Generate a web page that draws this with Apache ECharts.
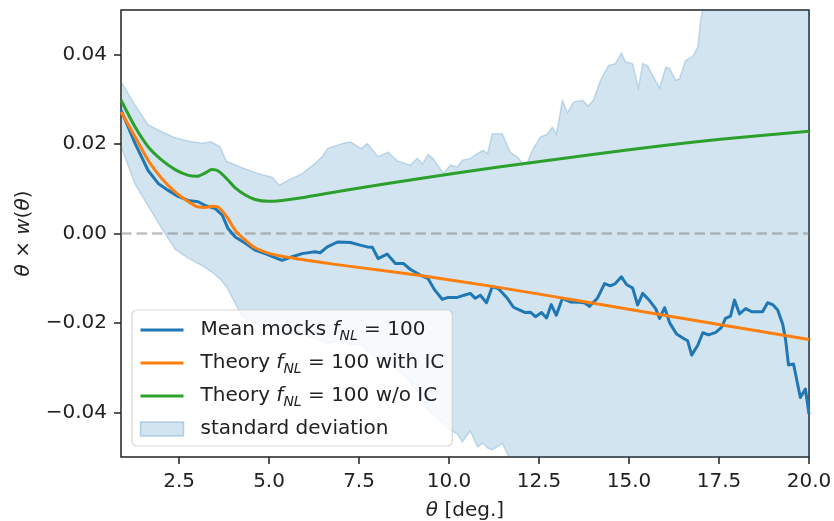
<!DOCTYPE html>
<html>
<head>
<meta charset="utf-8">
<script src="https://cdn.jsdelivr.net/npm/echarts@6/dist/echarts.min.js"></script>
<style>
  html, body { margin: 0; padding: 0; background: #fff; }
  #chart { width: 834px; height: 521px; }
</style>
</head>
<body>
<div id="chart"></div>
<script>
// Mean of the mocks, theta * w(theta)
const thetaMean = [0.89,1.28,1.64,1.92,2.19,2.47,2.75,3.03,3.22,3.50,3.70,3.86,4.06,4.34,4.61,4.89,5.17,5.36,5.64,5.92,6.28,6.42,6.62,6.90,7.26,7.53,7.73,7.87,8.03,8.28,8.51,8.73,8.92,9.20,9.42,9.59,9.81,9.98,10.23,10.42,10.59,10.73,10.87,11.04,11.20,11.37,11.62,11.79,11.98,12.12,12.26,12.40,12.57,12.71,12.84,12.98,13.15,13.37,13.60,13.76,13.90,14.12,14.32,14.48,14.62,14.79,14.93,15.10,15.24,15.38,15.57,15.74,15.85,15.99,16.13,16.32,16.54,16.63,16.74,16.91,17.05,17.21,17.41,17.57,17.68,17.82,17.93,18.07,18.24,18.41,18.71,18.85,18.99,19.13,19.27,19.35,19.43,19.57,19.76,19.90,20.00];
const meanMocks = [0.0276,0.0201,0.0141,0.0112,0.0097,0.0083,0.0074,0.0071,0.0063,0.0056,0.0041,0.0011,-0.0008,-0.0022,-0.0037,-0.0045,-0.0054,-0.0060,-0.0052,-0.0045,-0.0041,-0.0043,-0.0030,-0.0019,-0.0020,-0.0026,-0.0030,-0.0031,-0.0056,-0.0046,-0.0067,-0.0067,-0.0080,-0.0093,-0.0101,-0.0125,-0.0147,-0.0143,-0.0143,-0.0138,-0.0134,-0.0145,-0.0138,-0.0155,-0.0119,-0.0123,-0.0145,-0.0165,-0.0172,-0.0177,-0.0176,-0.0186,-0.0177,-0.0189,-0.0159,-0.0183,-0.0145,-0.0153,-0.0154,-0.0155,-0.0163,-0.0145,-0.0112,-0.0117,-0.0112,-0.0097,-0.0114,-0.0122,-0.0160,-0.0134,-0.0150,-0.0168,-0.0190,-0.0166,-0.0200,-0.0225,-0.0236,-0.0240,-0.0272,-0.0250,-0.0222,-0.0227,-0.0221,-0.0210,-0.0190,-0.0185,-0.0149,-0.0180,-0.0168,-0.0175,-0.0175,-0.0155,-0.0159,-0.0171,-0.0203,-0.0238,-0.0294,-0.0292,-0.0367,-0.0348,-0.0404];

// Theory curves, with and without the integral constraint
const thetaTheory = [0.89,1.28,1.64,2.02,2.39,2.76,3.00,3.22,3.41,3.59,3.83,4.06,4.34,4.61,4.98,5.36,5.91,6.47,7.21,9.20,11.33,13.93,15.97,17.54,20.00];
const theoryWithIC = [0.0272,0.0216,0.0164,0.0123,0.0093,0.0071,0.0060,0.0058,0.0061,0.0059,0.0037,0.0007,-0.0015,-0.0032,-0.0044,-0.0051,-0.0058,-0.0065,-0.0073,-0.0094,-0.0120,-0.0155,-0.0183,-0.0204,-0.0237];
const theoryNoIC = [0.0298,0.0238,0.0194,0.0164,0.0143,0.0130,0.0128,0.0135,0.0143,0.0140,0.0122,0.0102,0.0086,0.0076,0.0072,0.0074,0.0080,0.0088,0.0098,0.0123,0.0148,0.0176,0.0197,0.0211,0.0229];

// Standard deviation envelope of the mocks
const thetaBand = [0.89,1.28,1.64,2.03,2.39,2.75,3.14,3.39,3.64,3.81,4.25,4.70,5.09,5.28,5.53,5.92,6.28,6.48,6.62,6.98,7.26,7.56,7.73,8.03,8.31,8.56,8.92,9.12,9.26,9.42,9.56,9.84,10.04,10.23,10.37,10.59,10.79,10.95,11.07,11.20,11.48,11.70,11.90,12.04,12.18,12.34,12.54,12.73,12.87,12.98,13.15,13.29,13.46,13.71,13.87,14.01,14.21,14.43,14.62,14.79,14.90,15.10,15.26,15.38,15.51,15.68,15.85,16.02,16.13,16.29,16.40,16.57,16.77,16.91,16.99,17.07,17.50,18.50,19.50,20.00];
const bandUpper = [0.0340,0.0287,0.0243,0.0227,0.0214,0.0207,0.0202,0.0205,0.0194,0.0162,0.0147,0.0134,0.0126,0.0108,0.0119,0.0134,0.0157,0.0172,0.0190,0.0200,0.0205,0.0190,0.0201,0.0172,0.0182,0.0163,0.0153,0.0168,0.0156,0.0177,0.0167,0.0135,0.0153,0.0149,0.0164,0.0168,0.0179,0.0186,0.0179,0.0223,0.0223,0.0182,0.0171,0.0158,0.0160,0.0190,0.0216,0.0222,0.0238,0.0222,0.0298,0.0270,0.0294,0.0298,0.0285,0.0298,0.0343,0.0376,0.0380,0.0404,0.0384,0.0380,0.0326,0.0380,0.0376,0.0350,0.0326,0.0372,0.0369,0.0343,0.0346,0.0387,0.0396,0.0417,0.0477,0.0510,0.0620,0.0700,0.0800,0.0850];
const bandLower = [0.0194,0.0110,0.0062,0.0010,-0.0035,-0.0055,-0.0072,-0.0085,-0.0102,-0.0118,-0.0185,-0.0205,-0.0215,-0.0220,-0.0222,-0.0226,-0.0235,-0.0240,-0.0246,-0.0240,-0.0250,-0.0248,-0.0262,-0.0284,-0.0290,-0.0305,-0.0330,-0.0355,-0.0370,-0.0395,-0.0405,-0.0425,-0.0440,-0.0448,-0.0466,-0.0442,-0.0477,-0.0469,-0.0480,-0.0484,-0.0470,-0.0505,-0.0530,-0.0540,-0.0545,-0.0555,-0.0570,-0.0580,-0.0575,-0.0585,-0.0590,-0.0580,-0.0600,-0.0605,-0.0610,-0.0590,-0.0580,-0.0600,-0.0605,-0.0600,-0.0615,-0.0625,-0.0650,-0.0650,-0.0675,-0.0690,-0.0705,-0.0710,-0.0770,-0.0790,-0.0820,-0.0860,-0.0900,-0.0920,-0.0950,-0.0960,-0.1000,-0.1050,-0.1100,-0.1200];

// Axis ticks
const xTicks = [2.5, 5, 7.5, 10, 12.5, 15, 17.5, 20];
const yTicks = [-0.04, -0.02, 0, 0.02, 0.04];

const FONT = 'DejaVu Sans';
const INK = '#222';
const BLUE = '#1f77b4', ORANGE = '#ff7f0e', GREEN = '#2ca02c';
const BAND_FILL = 'rgba(31,119,180,0.2)';
const BAND_EDGE = 'rgba(31,119,180,0.22)';

const pairs = (xs, ys) => xs.map((x, i) => [x, ys[i]]);

const mathRich = {
  r: { fontFamily: FONT, fontSize: 20, lineHeight: 26, color: INK },
  i: { fontFamily: FONT, fontSize: 20, lineHeight: 26, fontStyle: 'italic', color: INK },
  s: { fontFamily: FONT, fontSize: 14, lineHeight: 14, fontStyle: 'italic', verticalAlign: 'bottom', color: INK },
  p: { fontFamily: FONT, fontSize: 20, lineHeight: 22, color: INK }
};

const legendText = {
  mean: '{r|Mean mocks }{i|f}{s|NL}{r| = 100}',
  withIC: '{r|Theory }{i|f}{s|NL}{r| = 100 with IC}',
  noIC: '{r|Theory }{i|f}{s|NL}{r| = 100 w/o IC}',
  band: '{p|standard deviation}'
};

// Shaded envelope: one polygon between the upper and lower bounds, plus its faint edges
function renderBand(params, api) {
  if (params.dataIndex !== 0) return null;
  const up = thetaBand.map((t, i) => api.coord([t, bandUpper[i]]));
  const lo = thetaBand.map((t, i) => api.coord([t, bandLower[i]]));
  const cs = params.coordSys;
  return {
    type: 'group',
    clipPath: { type: 'rect', shape: { x: cs.x, y: cs.y, width: cs.width, height: cs.height } },
    children: [
      { type: 'polygon', shape: { points: up.concat(lo.slice().reverse()) }, style: { fill: BAND_FILL } },
      { type: 'polyline', shape: { points: up }, style: { stroke: BAND_EDGE, lineWidth: 1.5, fill: null } },
      { type: 'polyline', shape: { points: lo }, style: { stroke: BAND_EDGE, lineWidth: 1.5, fill: null } }
    ]
  };
}

const chart = echarts.init(document.getElementById('chart'), null, { renderer: 'canvas' });

chart.setOption({
  animation: false,
  backgroundColor: '#fff',
  grid: {
    left: 121, right: 25, top: 10, bottom: 64,
    show: true, borderColor: INK, borderWidth: 1.5,
    backgroundColor: 'transparent',
    containLabel: false,
    outerBoundsMode: 'none'
  },
  xAxis: {
    type: 'value', min: 0.887, max: 20,
    name: '{i|θ}{r| [deg.]}',
    nameLocation: 'middle', nameGap: 41,
    nameTextStyle: { rich: mathRich },
    axisLine: { show: false, onZero: false },
    splitLine: { show: false },
    axisTick: { show: true, length: 7, lineStyle: { color: INK, width: 1.5 }, customValues: xTicks },
    axisLabel: {
      customValues: xTicks, margin: 15,
      fontFamily: FONT, fontSize: 20, color: INK,
      formatter: v => v.toFixed(1)
    }
  },
  yAxis: {
    type: 'value', min: -0.05, max: 0.05,
    name: '{i|θ}{r| × }{i|w}{r|(}{i|θ}{r|)}',
    nameLocation: 'middle', nameGap: 84,
    nameTextStyle: { rich: mathRich },
    axisLine: { show: false, onZero: false },
    splitLine: { show: false },
    axisTick: { show: true, length: 7, lineStyle: { color: INK, width: 1.5 }, customValues: yTicks },
    axisLabel: {
      customValues: yTicks, margin: 14,
      fontFamily: FONT, fontSize: 20, color: INK,
      formatter: v => v.toFixed(2).replace('-', '\u2212')
    }
  },
  legend: {
    orient: 'vertical',
    left: 132, top: 310,
    padding: [10, 8, 7, 7],
    itemGap: 10,
    itemWidth: 43, itemHeight: 14,
    backgroundColor: 'rgba(255,255,255,0.8)',
    borderColor: 'rgba(204,204,204,0.8)', borderWidth: 1.2, borderRadius: 5,
    selectedMode: false,
    textStyle: { fontFamily: FONT, fontSize: 20, color: INK, padding: [0, 0, 0, 12], rich: mathRich },
    formatter: name => legendText[name],
    data: [
      { name: 'mean', itemStyle: { opacity: 0 }, lineStyle: { color: BLUE, width: 3 } },
      { name: 'withIC', itemStyle: { opacity: 0 }, lineStyle: { color: ORANGE, width: 3 } },
      { name: 'noIC', itemStyle: { opacity: 0 }, lineStyle: { color: GREEN, width: 3 } },
      { name: 'band', icon: 'rect', itemStyle: { color: BAND_FILL, borderColor: 'rgba(31,119,180,0.28)', borderWidth: 1.5 } }
    ]
  },
  series: [
    {
      name: 'band', type: 'custom', z: 1,
      color: BAND_FILL,
      data: thetaBand.map((t, i) => [t, bandLower[i], bandUpper[i]]),
      encode: { x: 0, y: [1, 2] },
      renderItem: renderBand,
      silent: true
    },
    {
      name: 'mean', type: 'line', z: 3,
      data: pairs(thetaMean, meanMocks),
      symbol: 'none', clip: true, color: BLUE,
      lineStyle: { color: BLUE, width: 3, join: 'round' },
      markLine: {
        silent: true, symbol: 'none', z: 2,
        label: { show: false },
        lineStyle: { color: 'rgba(128,128,128,0.5)', width: 2.5, type: [10.5, 5] },
        data: [{ yAxis: 0 }]
      }
    },
    {
      name: 'withIC', type: 'line', z: 3,
      data: pairs(thetaTheory, theoryWithIC),
      symbol: 'none', clip: true, smooth: 0.25, color: ORANGE,
      lineStyle: { color: ORANGE, width: 3 }
    },
    {
      name: 'noIC', type: 'line', z: 3,
      data: pairs(thetaTheory, theoryNoIC),
      symbol: 'none', clip: true, smooth: 0.25, color: GREEN,
      lineStyle: { color: GREEN, width: 3 }
    }
  ]
});
</script>
</body>
</html>
